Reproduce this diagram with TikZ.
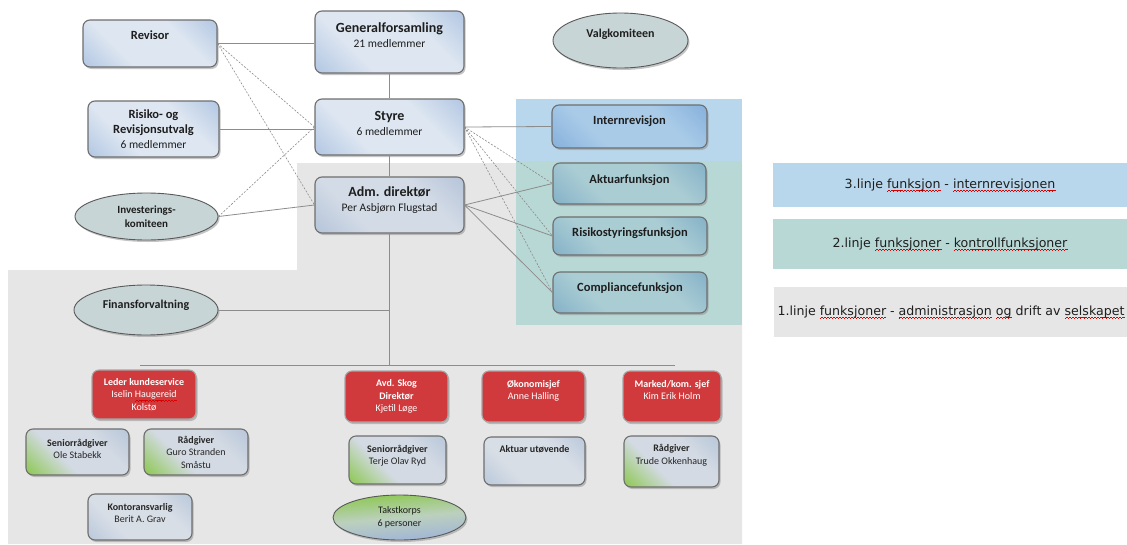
\documentclass[tikz,border=0pt]{standalone}
\usepackage{fontspec}
\setmainfont{Carlito}
\newfontfamily\legfont{DejaVu Sans}
\usetikzlibrary{shapes.geometric,shadows}
\newcommand\sq[1]{\setbox0\hbox{#1}\leavevmode\rlap{\hbox to\wd0{\color{red!85!black}\xleaders\hbox{\rule[-3.2pt]{0.75pt}{0.5pt}\rule[-2.8pt]{0.75pt}{0.5pt}\rule[-2.4pt]{0.75pt}{0.5pt}\rule[-2.8pt]{0.75pt}{0.5pt}}\hfil}}\box0\relax}
\definecolor{greyreg}{HTML}{E6E6E6}
\definecolor{bluereg}{HTML}{B9D7EC}
\definecolor{tealreg}{HTML}{B7D8D5}
\definecolor{bordc}{HTML}{6E6E6E}
\definecolor{linec}{HTML}{8C8C8C}
\definecolor{txt}{HTML}{1E1E1E}
\definecolor{ellc}{HTML}{C8D5D6}
\definecolor{redc}{HTML}{D13A3D}
\definecolor{tbD}{HTML}{93B0D8}
\definecolor{tbL}{HTML}{DDE6F1}
\definecolor{abD}{HTML}{A0B4D0}
\definecolor{abL}{HTML}{D3DBE6}
\definecolor{ibD}{HTML}{6D9ED3}
\definecolor{ibL}{HTML}{A9CBE8}
\definecolor{tcD}{HTML}{6A9DBE}
\definecolor{tcL}{HTML}{AACDD4}
\definecolor{lgG}{HTML}{8CC850}
\definecolor{lgL}{HTML}{D3DAE3}
\definecolor{lgB}{HTML}{A4B9D3}
\definecolor{lbL}{HTML}{D8DEE6}
\definecolor{tkM}{HTML}{BCD0BE}
\pgfdeclarehorizontalshading{shtop}{100bp}{color(0bp)=(tbD); color(35bp)=(tbL); color(65bp)=(tbL); color(100bp)=(tbD)}
\pgfdeclarehorizontalshading{shadm}{100bp}{color(0bp)=(abD); color(35bp)=(abL); color(65bp)=(abL); color(100bp)=(abD)}
\pgfdeclarehorizontalshading{shint}{100bp}{color(0bp)=(ibD); color(35bp)=(ibL); color(65bp)=(ibL); color(100bp)=(ibD)}
\pgfdeclarehorizontalshading{shteal}{100bp}{color(0bp)=(tcD); color(35bp)=(tcL); color(65bp)=(tcL); color(100bp)=(tcD)}
\pgfdeclarehorizontalshading{shgreen}{100bp}{color(0bp)=(lgG); color(15bp)=(lgG); color(40bp)=(lgL); color(65bp)=(lgL); color(100bp)=(lgB)}
\pgfdeclarehorizontalshading{shlow}{100bp}{color(0bp)=(lgB); color(35bp)=(lbL); color(65bp)=(lbL); color(100bp)=(lgB)}
\pgfdeclarehorizontalshading{shtakst}{100bp}{color(0bp)=(lgB); color(30bp)=(lgB); color(50bp)=(tkM); color(75bp)=(lgG); color(100bp)=(lgG)}
\begin{document}
\begin{tikzpicture}[x=1pt,y=-1pt,
  box/.style={rectangle, rounded corners=7pt, draw=bordc, line width=1.1pt, align=center,
    inner sep=2pt, text=txt, font=\fontsize{12.5}{15}\selectfont,
    drop shadow={shadow xshift=1.5pt,shadow yshift=-2pt,fill=black!45,opacity=.5}},
  bigbox/.style={box, font=\fontsize{11.5}{15}\selectfont},
  topsh/.style={shading=shtop, shading angle=45},
  admsh/.style={shading=shadm, shading angle=45},
  intsh/.style={shading=shint, shading angle=45},
  tealsh/.style={shading=shteal, shading angle=45},
  greensh/.style={shading=shgreen, shading angle=45},
  lowsh/.style={shading=shlow, shading angle=45},
  lowbox/.style={box, font=\fontsize{10}{12.5}\selectfont, text=black!85},
  redbox/.style={lowbox, fill=redc, draw=black!35, text=white},
  ell/.style={ellipse, draw=black!65, line width=0.9pt, fill=ellc, align=center, inner sep=0pt,
    text=txt, font=\fontsize{12}{14}\selectfont,
    drop shadow={shadow xshift=1.5pt,shadow yshift=-2pt,fill=black!45,opacity=.5}},
  leg/.style={rectangle, inner sep=0pt, text=txt, font=\legfont\fontsize{12.6}{15}\selectfont},
  conn/.style={draw=linec, line width=0.8pt},
  dconn/.style={draw=linec, line width=0.6pt, dash pattern=on 2pt off 1.5pt}
]
\useasboundingbox (0,0) rectangle (1127,544);
\fill[white] (0,0) rectangle (1127,544);
% regions
\fill[greyreg] (297,163) -- (742,163) -- (742,544) -- (8,544) -- (8,270) -- (297,270) -- cycle;
\fill[bluereg] (516,99) rectangle (742,161);
\fill[tealreg] (516,161) rectangle (742,325);
% legend
\node[leg, fill=bluereg, minimum width=354pt, minimum height=44pt] (l3) at (950,185) {3.linje \sq{funksjon} - \sq{internrevisjonen}};
\node[leg, fill=tealreg, minimum width=354pt, minimum height=50pt] (l2) at (950,244) {2.linje \sq{funksjoner} - \sq{kontrollfunksjoner}};
\node[leg, fill=greyreg, minimum width=354pt, minimum height=50pt] (l1) at (951,312) {1.linje \sq{funksjoner} - \sq{administrasjon} \sq{og} drift av \sq{selskapet}};
% top nodes
\node[box, topsh, minimum width=134pt, minimum height=47pt] (rev) at (150,43.5) {\textbf{Revisor}\\[2pt]};
\node[bigbox, topsh, minimum width=149pt, minimum height=62pt] (gf) at (389.5,42) {\fontsize{14}{15}\selectfont\textbf{Generalforsamling}\\\fontsize{11.5}{15}\selectfont 21 medlemmer\\[-2pt]};
\node[bigbox, topsh, minimum width=149pt, minimum height=56pt] (styre) at (389.5,127) {\fontsize{14}{15}\selectfont\textbf{Styre}\\\fontsize{11.5}{15}\selectfont 6 medlemmer\\[-8pt]};
\node[box, topsh, minimum width=131pt, minimum height=56pt] (rru) at (153.5,129) {\textbf{Risiko- og}\\\textbf{Revisjonsutvalg}\\\fontsize{11.5}{14}\selectfont 6 medlemmer};
\node[bigbox, admsh, minimum width=149pt, minimum height=56pt] (adm) at (389.5,205) {\fontsize{14}{15}\selectfont\textbf{Adm. direktør}\\\fontsize{11.5}{15}\selectfont Per Asbjørn Flugstad\\[-4pt]};
\node[ell, font=\fontsize{11}{14}\selectfont, minimum width=143pt, minimum height=47pt] (inv) at (146.5,216.5) {\textbf{Investerings-}\\\textbf{komiteen}};
\node[ell, minimum width=135pt, minimum height=55pt] (valg) at (620.5,40.5) {\textbf{Valgkomiteen}\\[1pt]};
\node[box, intsh, minimum width=155pt, minimum height=43pt] (intrev) at (629.5,126.5) {\textbf{Internrevisjon}\\[-2pt]};
\node[box, tealsh, minimum width=153pt, minimum height=41pt] (akt) at (629.5,183.5) {\textbf{Aktuarfunksjon}\\[-6pt]};
\node[box, tealsh, minimum width=154pt, minimum height=38pt] (risk) at (630,236) {\textbf{Risikostyringsfunksjon}\\[-7pt]};
\node[box, tealsh, minimum width=154pt, minimum height=41pt] (comp) at (630,292.5) {\textbf{Compliancefunksjon}\\[-4pt]};
\node[ell, minimum width=144pt, minimum height=50pt] (fin) at (146,310) {\textbf{Finansforvaltning}\\[-2pt]};
% lower nodes
\node[redbox, minimum width=104pt, minimum height=49pt] (lks) at (144,394.5) {\textbf{Leder kundeservice}\\Iselin \sq{Haugereid}\\Kolstø};
\node[lowbox, greensh, minimum width=103pt, minimum height=46pt] (sro) at (77.5,452) {\textbf{Seniorrådgiver}\\Ole Stabekk\\[-6.5pt]};
\node[lowbox, greensh, minimum width=104pt, minimum height=46pt] (rgs) at (196,452) {\textbf{Rådgiver}\\Guro Stranden\\Småstu};
\node[lowbox, lowsh, minimum width=104pt, minimum height=46pt] (kont) at (140,517) {\textbf{Kontoransvarlig}\\Berit A. Grav\\[-4.5pt]};
\node[redbox, minimum width=103pt, minimum height=51pt] (skog) at (396.5,396.5) {\textbf{Avd. Skog}\\\textbf{Direktør}\\Kjetil Løge};
\node[redbox, minimum width=103pt, minimum height=51pt] (oko) at (533.5,396.5) {\textbf{Økonomisjef}\\Anne Halling\\[0.5pt]};
\node[redbox, minimum width=98pt, minimum height=51pt] (mark) at (672,396.5) {\textbf{Marked/kom. sjef}\\Kim Erik Holm\\[0.5pt]};
\node[lowbox, greensh, minimum width=97pt, minimum height=48pt] (srt) at (397.5,460) {\textbf{Seniorrådgiver}\\Terje Olav Ryd\\[-2.5pt]};
\node[lowbox, lowsh, minimum width=101pt, minimum height=48pt] (aktu) at (534.5,461) {\textbf{Aktuar utøvende}\\[11.5pt]};
\node[lowbox, greensh, minimum width=95pt, minimum height=51pt] (rgt) at (671.5,461.5) {\textbf{Rådgiver}\\Trude Okkenhaug\\[1.5pt]};
\node[ell, shading=shtakst, shading angle=95, font=\fontsize{10}{12.5}\selectfont, minimum width=133pt, minimum height=45pt] (takst) at (399.5,517.5) {Takstkorps\\6 personer};
% connectors
\draw[conn] (rev.east) -- (rev.east -| gf.west);
\draw[conn] (gf) -- (styre);
\draw[conn] (styre) -- (adm);
\draw[conn] (rru.east) -- (rru.east -| styre.west);
\draw[conn] (inv.east) -- (adm.west);
\draw[dconn] (rev.east) -- (styre.west);
\draw[dconn] (rev.east) -- (adm.west);
\draw[dconn] (inv.east) -- (styre.west);
\draw[conn] (styre.east) -- (intrev.west);
\draw[dconn] (styre.east) -- (akt.west);
\draw[dconn] (styre.east) -- (risk.west);
\draw[dconn] (styre.east) -- (comp.west);
\draw[conn] (adm.east) -- (akt.west);
\draw[conn] (adm.east) -- (risk.west);
\draw[conn] (adm.east) -- (comp.west);
\coordinate (bj) at (389.5,365);
\coordinate (bl) at (140,365);
\coordinate (br) at (675,365);
\coordinate (fj) at (389.5,310);
\draw[conn] (adm.south) -- (bj);
\draw[conn] (bl) -- (br);
\draw[conn] (fin.east) -- (fj);
\end{tikzpicture}
\end{document}
